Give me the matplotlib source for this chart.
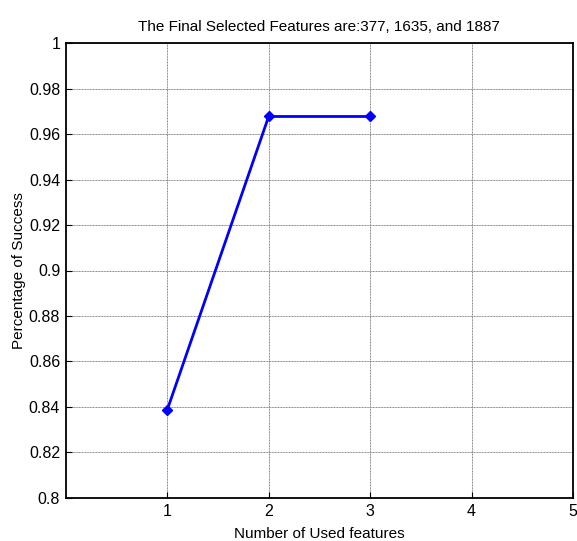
import matplotlib
matplotlib.use('Agg')
import matplotlib.pyplot as plt

matplotlib.rcParams['font.family'] = ['Liberation Sans', 'DejaVu Sans']

# number of used features vs. success rate
n_feat = [1, 2, 3]
success = [0.8387, 0.9677, 0.9677]
xticks = [1, 2, 3, 4, 5]
yticks = [0.8, 0.82, 0.84, 0.86, 0.88, 0.9, 0.92, 0.94, 0.96, 0.98, 1]

fig = plt.figure(figsize=(5.77, 5.41), dpi=100)
ax = fig.add_axes([0.114, 0.0795, 0.879, 0.841])

ax.plot(n_feat, success, color='#0000ff', lw=2, marker='D', ms=5,
        mfc='#0000ff', mec='#0000ff')

ax.set_xlim(0, 5)
ax.set_ylim(0.8, 1)
ax.set_xticks(xticks)
ax.set_yticks(yticks)
ax.set_yticklabels(['%g' % v for v in yticks])
ax.tick_params(direction='in', length=4, labelsize=11.5, colors='black', pad=4)
ax.grid(True, color='0.5', lw=0.7, ls=(0, (1, 0.6)))
for s in ax.spines.values():
    s.set_linewidth(1.3)

ax.set_title('The Final Selected Features are:377, 1635, and 1887', fontsize=11, pad=9)
ax.set_xlabel('Number of Used features', fontsize=11, labelpad=6)
ax.set_ylabel('Percentage of Success', fontsize=11, labelpad=2)

fig.savefig('out.png', dpi=100)
